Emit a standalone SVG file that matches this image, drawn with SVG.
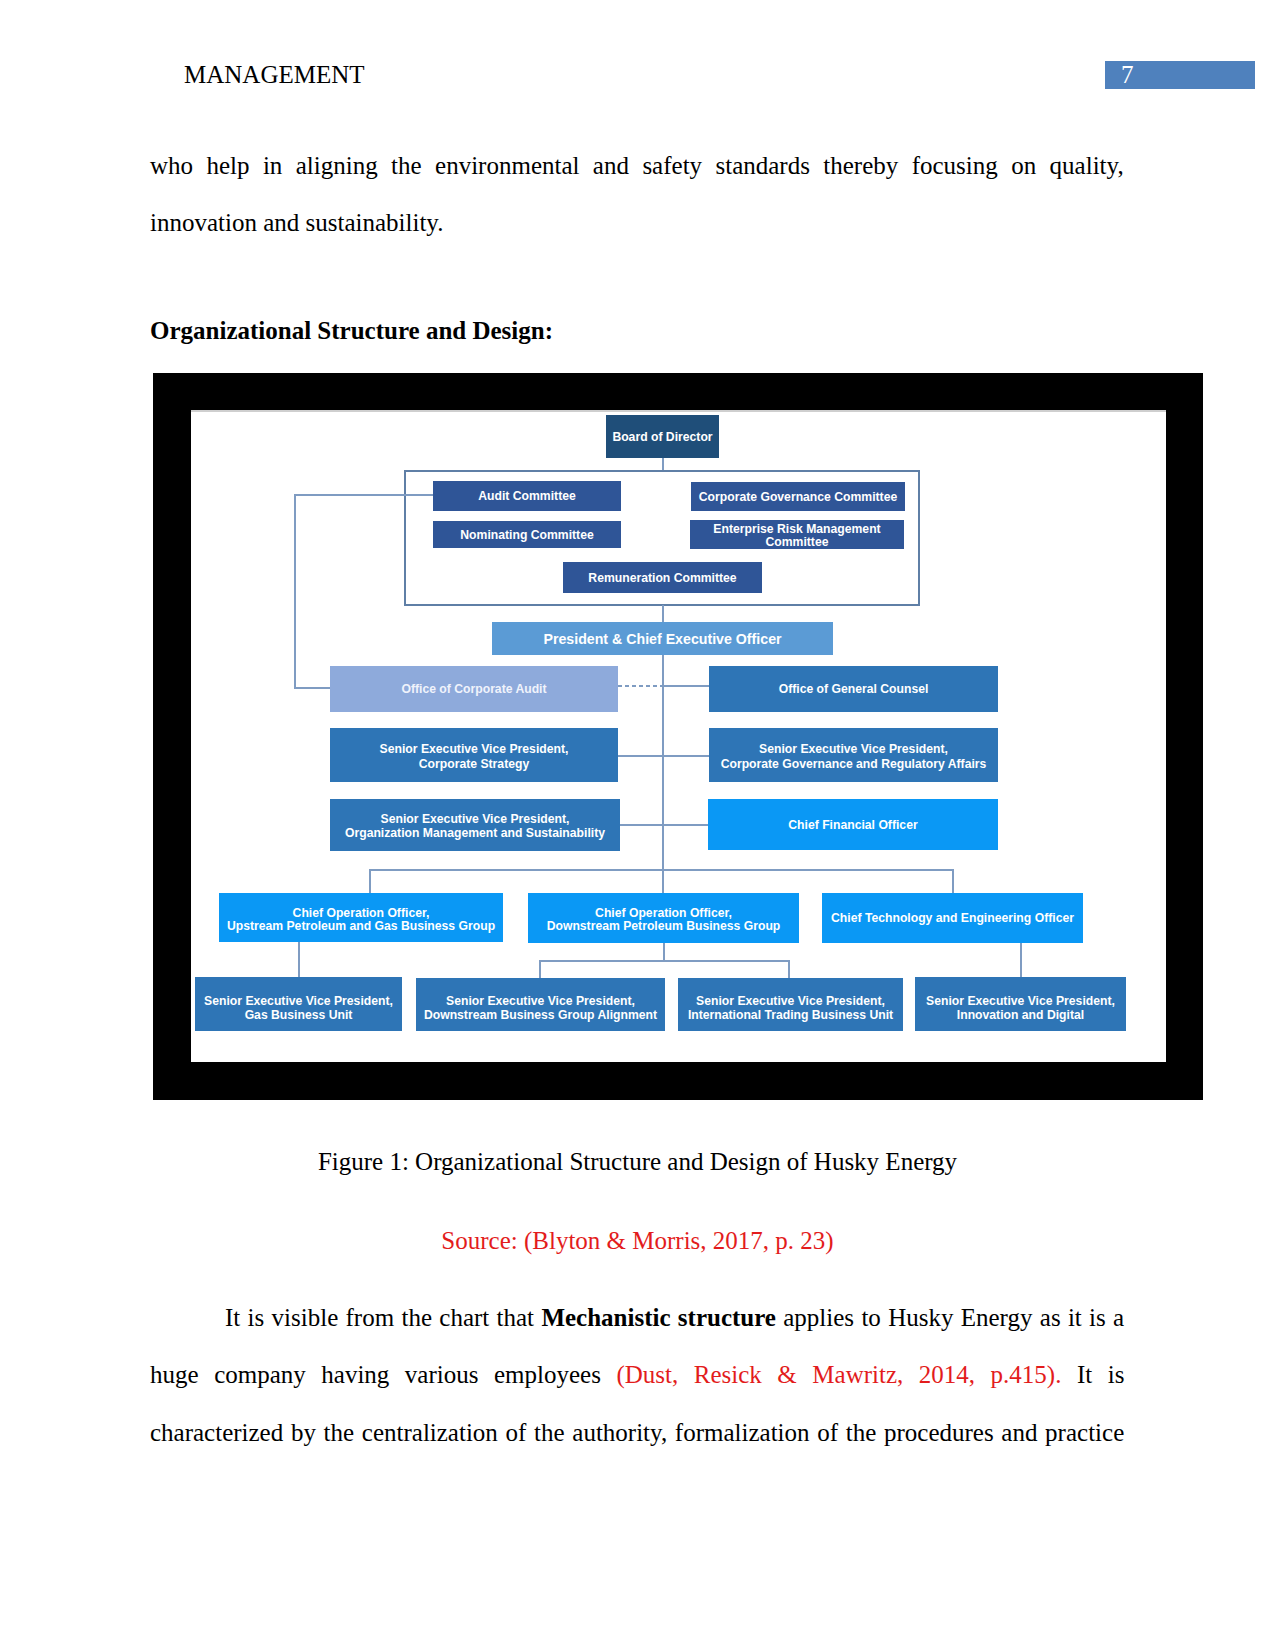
<svg xmlns="http://www.w3.org/2000/svg" width="1275" height="1651" viewBox="0 0 1275 1651">
<style>
.body{font-family:"Liberation Serif","Times New Roman",serif;font-size:25px;fill:#000}
.red{fill:#e31c1c}
.n{font-family:"Liberation Sans",Arial,sans-serif;font-weight:bold;font-size:12.2px;fill:#fff;text-anchor:middle}
.conn line,.conn polyline{stroke:#7f9cc2;stroke-width:2;fill:none}
.c1{fill:#1f4e79}
.c2{fill:#2f5597}
.c3{fill:#5b9bd5}
.c4{fill:#8eaadb}
.c5{fill:#2e75b6}
.c6{fill:#0a98f5}
</style>
<rect width="1275" height="1651" fill="#fff"/>
<g id="header">
<text class="body" x="184" y="83">MANAGEMENT</text>
<rect x="1105" y="61" width="150" height="28" fill="#4f81bd"/>
<text class="body" x="1121" y="83" style="fill:#fff">7</text>
</g>
<g id="para1">
<text class="body" x="150" y="173.5" word-spacing="7.16">who help in aligning the environmental and safety standards thereby focusing on quality,</text>
<text class="body" x="150" y="231">innovation and sustainability.</text>
<text class="body" x="150" y="338.5" font-weight="bold">Organizational Structure and Design:</text>
</g>
<g id="frame">
<rect x="153" y="373" width="1050" height="727" fill="#000"/>
<rect x="191" y="410" width="975" height="652" fill="#fff"/>
<line x1="191" y1="411" x2="1166" y2="411" stroke="#cfcfcf" stroke-width="2"/>
</g>
<g class="conn" id="connectors">
<line x1="663" y1="458" x2="663" y2="471"/>
<rect x="405" y="471" width="514" height="134" fill="none" stroke="#5f7fa6" stroke-width="2"/>
<line x1="663" y1="605" x2="663" y2="622"/>
<polyline points="433,495 295,495 295,688 330,688"/>
<line x1="663" y1="655" x2="663" y2="893"/>
<line x1="618" y1="686" x2="663" y2="686" stroke-dasharray="4,3"/>
<line x1="663" y1="686" x2="709" y2="686"/>
<line x1="618" y1="756" x2="709" y2="756"/>
<line x1="620" y1="825" x2="708" y2="825"/>
<polyline points="370,893 370,870 953,870 953,893"/>
<line x1="299" y1="942" x2="299" y2="977"/>
<line x1="664" y1="943" x2="664" y2="961"/>
<polyline points="540,978 540,961 789,961 789,978"/>
<line x1="1021" y1="943" x2="1021" y2="977"/>
</g>
<g id="board"><rect class="c1" x="606" y="415" width="113" height="43"/><text class="n" x="662.5" y="441">Board of Director</text></g>
<g id="audit-committee"><rect class="c2" x="433" y="481" width="188" height="30"/><text class="n" x="527" y="500.4">Audit Committee</text></g>
<g id="nominating-committee"><rect class="c2" x="433" y="521" width="188" height="27"/><text class="n" x="527" y="538.9">Nominating Committee</text></g>
<g id="governance-committee"><rect class="c2" x="691" y="482" width="214" height="29"/><text class="n" x="798" y="500.9">Corporate Governance Committee</text></g>
<g id="risk-committee"><rect class="c2" x="690" y="520" width="214" height="29"/><text class="n" x="797" y="532.5">Enterprise Risk Management</text><text class="n" x="797" y="545.5">Committee</text></g>
<g id="remuneration-committee"><rect class="c2" x="563" y="562" width="199" height="31"/><text class="n" x="662.5" y="581.9">Remuneration Committee</text></g>
<g id="ceo"><rect class="c3" x="492" y="622" width="341" height="33"/><text class="n" x="662.5" y="643.5" style="font-size:14.2px">President &amp; Chief Executive Officer</text></g>
<g id="corporate-audit"><rect class="c4" x="330" y="666" width="288" height="46"/><text class="n" x="474" y="693.4" style="fill:#f0f3fb">Office of Corporate Audit</text></g>
<g id="general-counsel"><rect class="c5" x="709" y="666" width="289" height="46"/><text class="n" x="853.5" y="693.4">Office of General Counsel</text></g>
<g id="sevp-strategy"><rect class="c5" x="330" y="728" width="288" height="54"/><text class="n" x="474" y="752.7">Senior Executive Vice President,</text><text class="n" x="474" y="767.5">Corporate Strategy</text></g>
<g id="sevp-governance"><rect class="c5" x="709" y="728" width="289" height="54"/><text class="n" x="853.5" y="752.7">Senior Executive Vice President,</text><text class="n" x="853.5" y="767.5">Corporate Governance and Regulatory Affairs</text></g>
<g id="sevp-org"><rect class="c5" x="330" y="799" width="290" height="52"/><text class="n" x="475" y="822.5">Senior Executive Vice President,</text><text class="n" x="475" y="837">Organization Management and Sustainability</text></g>
<g id="cfo"><rect class="c6" x="708" y="799" width="290" height="51"/><text class="n" x="853" y="828.9">Chief Financial Officer</text></g>
<g id="coo-upstream"><rect class="c6" x="219" y="893" width="284" height="49"/><text class="n" x="361" y="916.7">Chief Operation Officer,</text><text class="n" x="361" y="930.4">Upstream Petroleum and Gas Business Group</text></g>
<g id="coo-downstream"><rect class="c6" x="528" y="893" width="271" height="50"/><text class="n" x="663.5" y="916.7">Chief Operation Officer,</text><text class="n" x="663.5" y="930.4">Downstream Petroleum Business Group</text></g>
<g id="cto"><rect class="c6" x="822" y="893" width="261" height="50"/><text class="n" x="952.5" y="922.4">Chief Technology and Engineering Officer</text></g>
<g id="sevp-gas"><rect class="c5" x="195" y="977" width="207" height="54"/><text class="n" x="298.5" y="1005">Senior Executive Vice President,</text><text class="n" x="298.5" y="1018.7">Gas Business Unit</text></g>
<g id="sevp-downstream"><rect class="c5" x="416" y="978" width="249" height="53"/><text class="n" x="540.5" y="1005">Senior Executive Vice President,</text><text class="n" x="540.5" y="1018.7">Downstream Business Group Alignment</text></g>
<g id="sevp-trading"><rect class="c5" x="678" y="978" width="225" height="53"/><text class="n" x="790.5" y="1005">Senior Executive Vice President,</text><text class="n" x="790.5" y="1018.7">International Trading Business Unit</text></g>
<g id="sevp-innovation"><rect class="c5" x="915" y="977" width="211" height="54"/><text class="n" x="1020.5" y="1005">Senior Executive Vice President,</text><text class="n" x="1020.5" y="1018.7">Innovation and Digital</text></g>
<g id="caption">
<text class="body" x="637.5" y="1170" text-anchor="middle">Figure 1: Organizational Structure and Design of Husky Energy</text>
<text class="body red" x="637.5" y="1249" text-anchor="middle">Source: (Blyton &amp; Morris, 2017, p. 23)</text>
</g>
<g id="para2">
<text class="body" x="225" y="1326" word-spacing="1.06">It is visible from the chart that <tspan font-weight="bold">Mechanistic structure</tspan> applies to Husky Energy as it is a</text>
<text class="body" x="150" y="1383" word-spacing="9.28">huge company having various employees <tspan class="red">(Dust, Resick &amp; Mawritz, 2014, p.415).</tspan> It is</text>
<text class="body" x="150" y="1440.5" word-spacing="1.44">characterized by the centralization of the authority, formalization of the procedures and practice</text>
</g>
</svg>
